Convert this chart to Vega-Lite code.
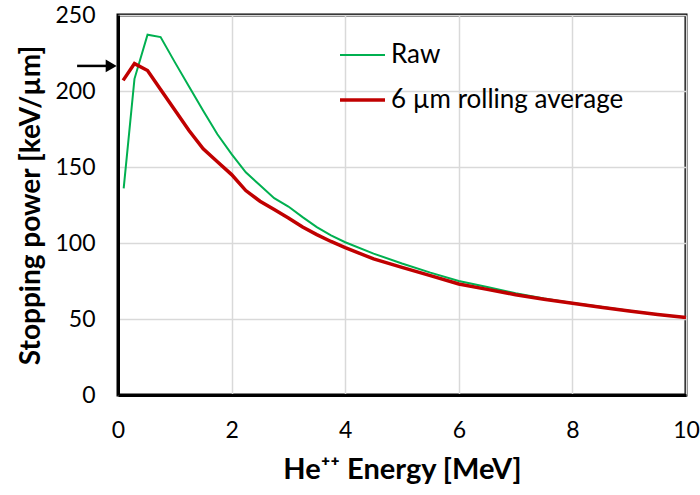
{
  "$schema": "https://vega.github.io/schema/vega-lite/v6.json",
  "width": 568,
  "height": 380,
  "autosize": {"type": "none"},
  "padding": {"left": 118, "top": 15, "right": 14, "bottom": 100},
  "background": "white",
  "config": {
    "font": "Lato",
    "view": {"stroke": "black", "strokeWidth": 3},
    "axis": {
      "labelFont": "Lato",
      "labelFontSize": 23,
      "labelColor": "#000000",
      "labelFlush": false,
      "titleFont": "Lato",
      "titleFontWeight": "bold",
      "titleColor": "#000000",
      "ticks": false,
      "domainColor": "black",
      "domainWidth": 3,
      "gridColor": "#d9d9d9",
      "gridWidth": 1.5
    }
  },
  "datasets": {
    "curves": [
      {"E": 0.1, "S": 136, "series": "Raw"},
      {"E": 0.29, "S": 208, "series": "Raw"},
      {"E": 0.52, "S": 237, "series": "Raw"},
      {"E": 0.75, "S": 235.5, "series": "Raw"},
      {"E": 1.0, "S": 219, "series": "Raw"},
      {"E": 1.25, "S": 203, "series": "Raw"},
      {"E": 1.5, "S": 187, "series": "Raw"},
      {"E": 1.75, "S": 171.5, "series": "Raw"},
      {"E": 2.0, "S": 158.5, "series": "Raw"},
      {"E": 2.25, "S": 146.5, "series": "Raw"},
      {"E": 2.5, "S": 138, "series": "Raw"},
      {"E": 2.75, "S": 129.5, "series": "Raw"},
      {"E": 3.0, "S": 124, "series": "Raw"},
      {"E": 3.25, "S": 117, "series": "Raw"},
      {"E": 3.5, "S": 110.5, "series": "Raw"},
      {"E": 3.75, "S": 105, "series": "Raw"},
      {"E": 4.0, "S": 100.5, "series": "Raw"},
      {"E": 4.5, "S": 93, "series": "Raw"},
      {"E": 5.0, "S": 86.5, "series": "Raw"},
      {"E": 5.5, "S": 80.5, "series": "Raw"},
      {"E": 6.0, "S": 75, "series": "Raw"},
      {"E": 6.5, "S": 71, "series": "Raw"},
      {"E": 7.0, "S": 67, "series": "Raw"},
      {"E": 7.5, "S": 63.5, "series": "Raw"},
      {"E": 8.0, "S": 60.5, "series": "Raw"},
      {"E": 8.5, "S": 58, "series": "Raw"},
      {"E": 9.0, "S": 55.5, "series": "Raw"},
      {"E": 9.5, "S": 53, "series": "Raw"},
      {"E": 10.0, "S": 51, "series": "Raw"},
      {"E": 0.09, "S": 207, "series": "6 µm rolling average"},
      {"E": 0.29, "S": 218, "series": "6 µm rolling average"},
      {"E": 0.52, "S": 213.5, "series": "6 µm rolling average"},
      {"E": 0.75, "S": 201, "series": "6 µm rolling average"},
      {"E": 1.0, "S": 187.5, "series": "6 µm rolling average"},
      {"E": 1.25, "S": 174, "series": "6 µm rolling average"},
      {"E": 1.5, "S": 162, "series": "6 µm rolling average"},
      {"E": 1.75, "S": 153.5, "series": "6 µm rolling average"},
      {"E": 2.0, "S": 145, "series": "6 µm rolling average"},
      {"E": 2.25, "S": 134.5, "series": "6 µm rolling average"},
      {"E": 2.5, "S": 127.5, "series": "6 µm rolling average"},
      {"E": 2.75, "S": 122, "series": "6 µm rolling average"},
      {"E": 3.0, "S": 116.5, "series": "6 µm rolling average"},
      {"E": 3.25, "S": 110.5, "series": "6 µm rolling average"},
      {"E": 3.5, "S": 105.5, "series": "6 µm rolling average"},
      {"E": 3.75, "S": 101, "series": "6 µm rolling average"},
      {"E": 4.0, "S": 97, "series": "6 µm rolling average"},
      {"E": 4.5, "S": 89.5, "series": "6 µm rolling average"},
      {"E": 5.0, "S": 84, "series": "6 µm rolling average"},
      {"E": 5.5, "S": 78.5, "series": "6 µm rolling average"},
      {"E": 6.0, "S": 73, "series": "6 µm rolling average"},
      {"E": 6.5, "S": 69.5, "series": "6 µm rolling average"},
      {"E": 7.0, "S": 66, "series": "6 µm rolling average"},
      {"E": 7.5, "S": 63, "series": "6 µm rolling average"},
      {"E": 8.0, "S": 60.3, "series": "6 µm rolling average"},
      {"E": 8.5, "S": 57.8, "series": "6 µm rolling average"},
      {"E": 9.0, "S": 55.3, "series": "6 µm rolling average"},
      {"E": 9.5, "S": 53, "series": "6 µm rolling average"},
      {"E": 10.0, "S": 51, "series": "6 µm rolling average"}
    ],
    "arrow": [
      {"E": -0.72, "E2": -0.2, "S": 216.5, "head": -0.12}
    ]
  },
  "layer": [
    {
      "data": {"name": "curves"},
      "mark": {"type": "line", "interpolate": "linear"},
      "encoding": {
        "x": {
          "field": "E",
          "type": "quantitative",
          "scale": {"domain": [0, 10], "nice": false, "zero": false},
          "axis": {
            "title": "He⁺⁺ Energy [MeV]",
            "titleFontSize": 29,
            "values": [0, 2, 4, 6, 8, 10],
            "format": "d",
            "labelPadding": 24,
            "titlePadding": 13,
            "grid": true
          }
        },
        "y": {
          "field": "S",
          "type": "quantitative",
          "scale": {"domain": [0, 250], "nice": false},
          "axis": {
            "title": "Stopping power [keV/µm]",
            "titleFontSize": 28,
            "values": [0, 50, 100, 150, 200, 250],
            "format": "d",
            "labelPadding": 23,
            "titlePadding": 9,
            "grid": true
          }
        },
        "color": {
          "field": "series",
          "type": "nominal",
          "scale": {"domain": ["Raw", "6 µm rolling average"], "range": ["#00b050", "#c00000"]},
          "legend": {
            "orient": "none",
            "legendX": 220,
            "legendY": 28,
            "title": null,
            "padding": 0,
            "symbolType": "stroke",
            "symbolSize": 2025,
            "symbolStrokeWidth": 3,
            "clipHeight": 24,
            "labelFont": "Lato",
            "labelFontSize": 26,
            "labelColor": "#000000",
            "labelLimit": 400,
            "labelOffset": 4,
            "rowPadding": 19
          }
        },
        "strokeWidth": {
          "field": "series",
          "type": "nominal",
          "scale": {"domain": ["Raw", "6 µm rolling average"], "range": [2, 3.5]},
          "legend": null
        }
      }
    },
    {
      "data": {"name": "arrow"},
      "mark": {"type": "rule", "color": "black", "strokeWidth": 2.5, "clip": false},
      "encoding": {
        "x": {"field": "E", "type": "quantitative", "scale": {"domain": [0, 10], "nice": false, "zero": false}},
        "x2": {"field": "E2"},
        "y": {"field": "S", "type": "quantitative", "scale": {"domain": [0, 250], "nice": false}}
      }
    },
    {
      "data": {"name": "arrow"},
      "mark": {"type": "point", "shape": "triangle-right", "filled": true, "color": "black", "size": 160, "opacity": 1, "clip": false},
      "encoding": {
        "x": {"field": "head", "type": "quantitative", "scale": {"domain": [0, 10], "nice": false, "zero": false}},
        "y": {"field": "S", "type": "quantitative", "scale": {"domain": [0, 250], "nice": false}}
      }
    }
  ]
}
